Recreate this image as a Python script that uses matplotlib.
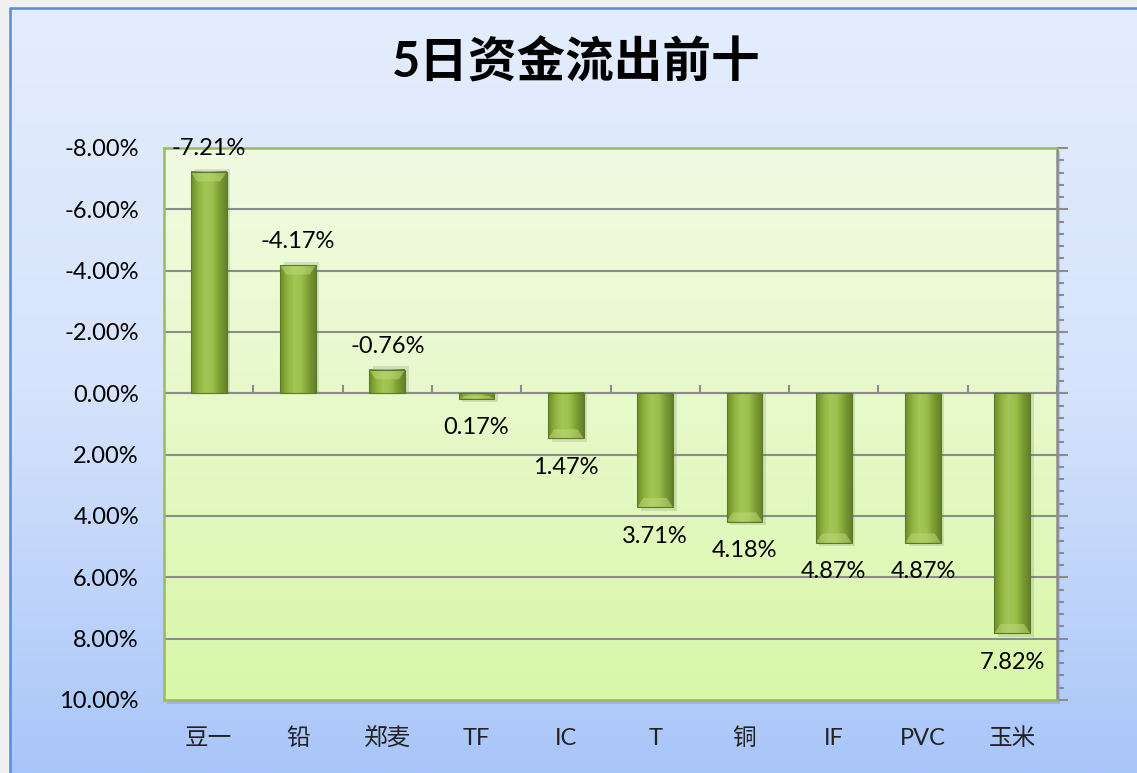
import numpy as np
import matplotlib
matplotlib.use('Agg')
import matplotlib.pyplot as plt
from matplotlib.colors import LinearSegmentedColormap
from matplotlib.patches import Rectangle, Polygon
from matplotlib.ticker import FuncFormatter, MultipleLocator

plt.rcParams['font.family'] = ['Lato', 'Noto Sans CJK SC', 'DejaVu Sans']

title = '5日资金流出前十'
categories = ['豆一', '铅', '郑麦', 'TF', 'IC', 'T', '铜', 'IF', 'PVC', '玉米']
values = [-7.21, -4.17, -0.76, 0.17, 1.47, 3.71, 4.18, 4.87, 4.87, 7.82]
y_ticks = [-8, -6, -4, -2, 0, 2, 4, 6, 8, 10]

W, H = 1137, 773
fig = plt.figure(figsize=(W / 100, H / 100), dpi=100)

# chart background: light grey margin, blue gradient frame
bg = fig.add_axes([0, 0, 1, 1], zorder=-10)
bg.set_xlim(0, W)
bg.set_ylim(H, 0)
bg.axis('off')
bg.add_patch(Rectangle((0, 0), W, H, color='#f0f0f0', zorder=0))
bg_cmap = LinearSegmentedColormap.from_list('bg', ['#e4edfd', '#d6e3fc', '#a9c6f9'])
grad = np.linspace(0, 1, 256).reshape(-1, 1)
bg.imshow(grad, cmap=bg_cmap, extent=(10, W, H, 8), aspect='auto',
          origin='upper', zorder=1)
bg.plot([10, 10, W], [H, 8, 8], color='#5b8bd0', lw=1.8, zorder=2)
# plot area shadow
bg.add_patch(Rectangle((167, 151), 893, 553, color='#7f9cc8', alpha=0.45,
                       lw=0, zorder=2))
bg.set_xlim(0, W)
bg.set_ylim(H, 0)

fig.text(576 / W, 1 - 62 / H, title, ha='center', va='center',
         fontsize=35, fontweight='bold',
         family=['Lato', 'Noto Sans CJK SC', 'DejaVu Sans'])

ax = fig.add_axes([164 / W, 73 / H, 893 / W, 552 / H])
n = len(categories)
x = np.arange(n)
ymin, ymax = y_ticks[0], y_ticks[-1]

pa_cmap = LinearSegmentedColormap.from_list('pa', ['#f1fbe3', '#e6f9c8', '#d9f7a8'])
ax.imshow(grad, cmap=pa_cmap, extent=(-0.5, n - 0.5, ymax, ymin),
          aspect='auto', origin='upper', zorder=0)

# gridlines
for t in y_ticks[1:-1]:
    ax.axhline(t, color='#8c8c8c', lw=1.5, zorder=1)

# bars with cylinder-like shading
bar_cmap = LinearSegmentedColormap.from_list(
    'bar', ['#6c8a2a', '#8fb23f', '#a3c657', '#9cc04c', '#7d9c33', '#62802a'])
hgrad = np.linspace(0, 1, 256).reshape(1, -1)
bw = 0.4
for xi, v in zip(x, values):
    ax.add_patch(Rectangle((xi - bw / 2 + 0.04, 0), bw, v + (0.12 if v > 0 else -0.12),
                           color='#6b7b55', alpha=0.2, lw=0, zorder=2))
    ax.imshow(hgrad, cmap=bar_cmap, extent=(xi - bw / 2, xi + bw / 2, 0, v),
              aspect='auto', zorder=3)
    # bevel at bar end
    d = 0.3 if abs(v) > 0.6 else abs(v) / 2
    s = 1 if v > 0 else -1
    cap = Polygon([(xi - bw / 2, v), (xi + bw / 2, v),
                   (xi + bw / 2 - 0.07, v - s * d), (xi - bw / 2 + 0.07, v - s * d)],
                  closed=True, color='#bcd977', alpha=0.55, lw=0, zorder=4)
    ax.add_patch(cap)
    ax.add_patch(Rectangle((xi - bw / 2, 0), bw, v, fill=False,
                           ec='#5f7a27', lw=0.8, zorder=4))
    off = 0.95 if v > 0 else -0.78
    ax.text(xi, v + off, f'{v:.2f}%', ha='center', va='center',
            fontsize=17, color='black', zorder=5)

# zero line with category ticks
ax.axhline(0, color='#8c8c8c', lw=1.5, zorder=2.5)
ax.vlines(np.arange(n + 1) - 0.5, -0.27, 0, color='#8c8c8c', lw=1.5, zorder=2.5)

ax.set_xlim(-0.5, n - 0.5)
ax.set_ylim(ymax, ymin)
ax.set_yticks(y_ticks)
ax.yaxis.set_major_formatter(FuncFormatter(lambda v, p: f'{v:.2f}%'))
ax.yaxis.set_minor_locator(MultipleLocator(0.4))
ax.tick_params(axis='y', which='both', left=False, right=True, direction='out',
               color='#8c8c8c', width=1.5, labelsize=17, pad=10)
ax.tick_params(axis='y', which='major', length=8)
ax.tick_params(axis='y', which='minor', length=5)
ax.set_xticks(x)
ax.set_xticklabels(categories)
ax.tick_params(axis='x', length=0, labelsize=17, pad=20, labelcolor='#222222')
for sp in ax.spines.values():
    sp.set_color('#9bbb59')
    sp.set_linewidth(1.8)
ax.spines['right'].set_color('#8c8c8c')

fig.savefig('out.png', dpi=100)
